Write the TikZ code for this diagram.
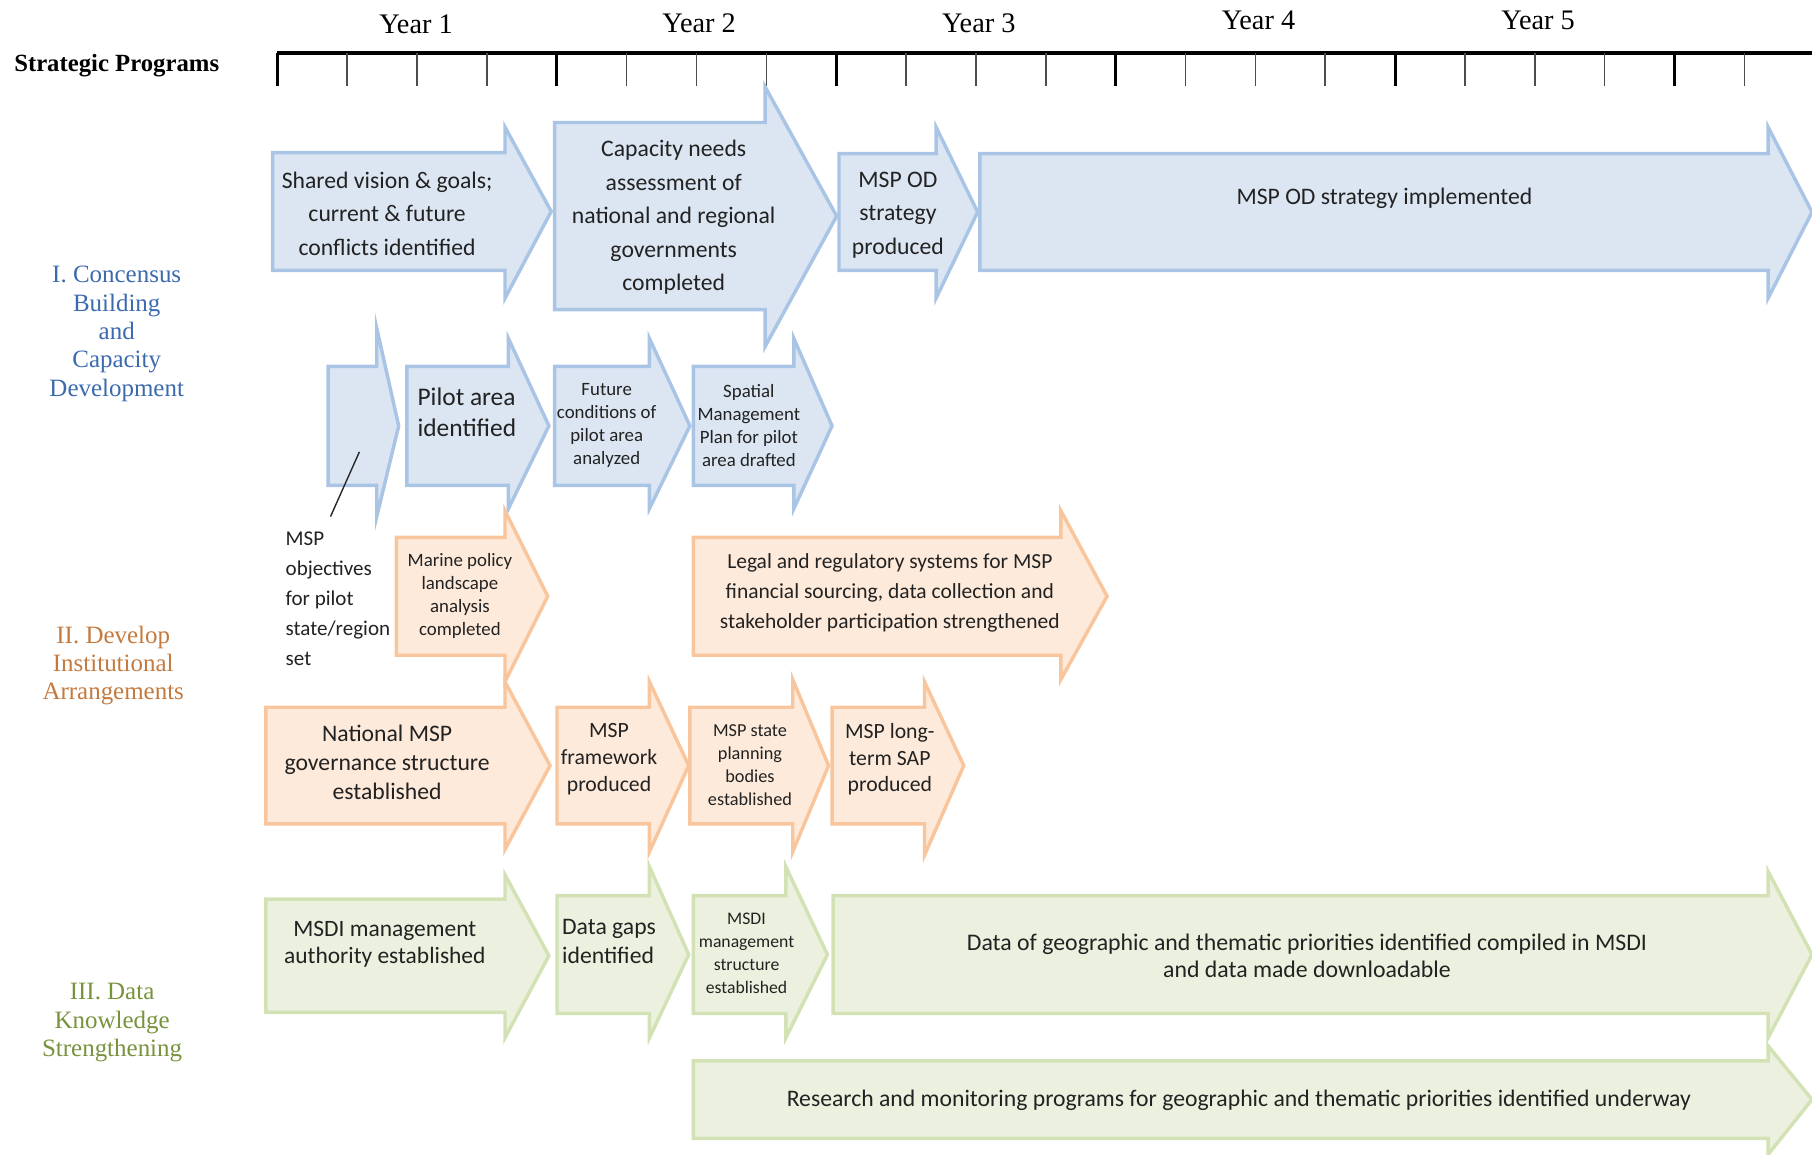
\documentclass[tikz,border=0pt]{standalone}
\usepackage{fontspec}
\setmainfont{Liberation Serif}
\newfontfamily\calib{Carlito}
\definecolor{bfill}{HTML}{DCE6F2}
\definecolor{bline}{HTML}{A9C4E4}
\definecolor{ofill}{HTML}{FDEADA}
\definecolor{oline}{HTML}{F9C59C}
\definecolor{gfill}{HTML}{EBF1DE}
\definecolor{gline}{HTML}{D2E2B5}
\definecolor{bl}{HTML}{3B6AAE}
\definecolor{ol}{HTML}{C47A3E}
\definecolor{gl}{HTML}{77933C}
\definecolor{txt}{HTML}{222222}
\newcommand{\shaft}[8]{%
  \path[#1] (#2,#4) -- (#3,#4) -- (#3,#6) -- (#8,{(#4+#5)/2}) -- (#3,#7) -- (#3,#5) -- (#2,#5) -- cycle;}
\newcommand{\fs}[2]{\fontsize{#1}{#2}\selectfont}
\tikzset{
  blu/.style={fill=bfill,draw=bline,line width=3pt,line join=miter},
  ora/.style={fill=ofill,draw=oline,line width=3pt,line join=miter},
  gre/.style={fill=gfill,draw=gline,line width=3pt,line join=miter},
  lbl/.style={text=txt,align=center,inner sep=0pt},
  prog/.style={align=center,inner sep=0pt},
  yr/.style={inner sep=0pt,font=\fs{24.5}{28}},
}
\begin{document}
\begin{tikzpicture}[x=1pt,y=-1pt]
\useasboundingbox (0,0) rectangle (1568,999);
% timeline
\node[inner sep=0pt,font=\bfseries\fs{21.4}{24}] (sp) at (101,57) {Strategic Programs};
\draw[line width=3pt] (240,46) -- (1570,46);
\foreach \i in {0,...,21}{
  \draw[line width=1.3pt,black!70] ({240+60.45*\i},46) -- ({240+60.45*\i},74);
}
\foreach \i in {0,...,5}{
  \draw[line width=2.6pt] ({240+241.8*\i},46) -- ({240+241.8*\i},74);
}
\node[yr] (y1) at (360,21) {Year 1};
\node[yr] (y2) at (605,20) {Year 2};
\node[yr] (y3) at (847,20) {Year 3};
\node[yr] (y4) at (1089,18) {Year 4};
\node[yr] (y5) at (1331,18) {Year 5};
% program labels
\node[prog,text=bl,font=\fs{21.6}{24.5}] (p1) at (101,289) {I. Concensus\\Building\\and\\Capacity\\Development};
\node[prog,text=ol,font=\fs{21.6}{24.5}] (p2) at (98,576) {II. Develop\\Institutional\\Arrangements};
\node[prog,text=gl,font=\fs{21.6}{24.5}] (p3) at (97,885) {III. Data\\Knowledge\\Strengthening};
% row 1
\shaft{blu}{236}{437}{132}{234}{110}{258}{477}
\node[lbl,font=\calib\fs{20.5}{29}] (a1) at (335,185) {Shared vision \& goals;\\current \& future\\conflicts identified};
\shaft{blu}{480}{662}{106}{268}{75}{300}{724}
\node[lbl,font=\calib\fs{20.5}{29}] (a2) at (583,188) {Capacity needs\\assessment of\\national and regional\\governments\\completed};
\shaft{blu}{726}{810}{133}{234}{110}{258}{846}
\node[lbl,font=\calib\fs{20.5}{29}] (a3) at (777,186) {MSP OD\\strategy\\produced};
\shaft{blu}{848}{1530}{133}{234}{110}{258}{1568}
\node[lbl,font=\calib\fs{20.5}{29}] (a4) at (1198,172) {MSP OD strategy implemented};
% row 2
\shaft{blu}{284}{326}{317}{420}{284}{447}{345}
\coordinate (a5) at (311,391);
\shaft{blu}{352}{440}{317}{420}{293}{440}{475}
\node[lbl,align=left,font=\calib\fs{22}{27}] (a6) at (404,357) {Pilot area\\identified};
\shaft{blu}{480}{562}{317}{420}{293}{440}{597}
\node[lbl,font=\calib\fs{16.3}{20}] (a7) at (525,368) {Future\\conditions of\\pilot area\\analyzed};
\shaft{blu}{600}{687}{317}{420}{293}{440}{720}
\node[lbl,font=\calib\fs{16.3}{20}] (a8) at (648,368) {Spatial\\Management\\Plan for pilot\\area drafted};
% objectives note
\node[lbl,align=left,anchor=west,font=\calib\fs{18.2}{26}] (obj) at (247,518) {MSP\\objectives\\for pilot\\state/region\\set};
\coordinate (objtop) at (286,447);
\draw[line width=1.2pt,black!85] (objtop) -- (a5);
% row 3
\shaft{ora}{343}{437}{465}{567}{442}{590}{474}
\node[lbl,font=\calib\fs{16.3}{20}] (a9) at (398,516) {Marine policy\\landscape\\analysis\\completed};
\shaft{ora}{600}{918}{465}{567}{442}{588}{958}
\node[lbl,font=\calib\fs{18.6}{26}] (a10) at (770,513) {Legal and regulatory systems for MSP\\financial sourcing, data collection and\\stakeholder participation strengthened};
% row 4
\shaft{ora}{230}{437}{612}{713}{590}{735}{476}
\node[lbl,font=\calib\fs{20.5}{25}] (a11) at (335,660) {National MSP\\governance structure\\established};
\shaft{ora}{482}{562}{612}{713}{590}{737}{596}
\node[lbl,font=\calib\fs{18.8}{23}] (a12) at (527,657) {MSP\\framework\\produced};
\shaft{ora}{597}{686}{612}{713}{588}{737}{717}
\node[lbl,font=\calib\fs{15.8}{20}] (a13) at (649,662) {MSP state\\planning\\bodies\\established};
\shaft{ora}{720}{800}{612}{713}{590}{740}{834}
\node[lbl,font=\calib\fs{18.8}{23}] (a14) at (770,657) {MSP long-\\term SAP\\produced};
% row 5
\shaft{gre}{230}{437}{778}{876}{757}{898}{475}
\node[lbl,font=\calib\fs{20.3}{23}] (a15) at (333,817) {MSDI management\\authority established};
\shaft{gre}{482}{562}{775}{877}{750}{898}{596}
\node[lbl,align=left,font=\calib\fs{20.5}{25}] (a16) at (527,815) {Data gaps\\identified};
\shaft{gre}{600}{680}{775}{877}{750}{898}{716}
\node[lbl,font=\calib\fs{15.3}{20}] (a17) at (646,825) {MSDI\\management\\structure\\established};
\shaft{gre}{721}{1530}{775}{877}{754}{898}{1568}
\node[lbl,font=\calib\fs{20.6}{24}] (a18) at (1131,827) {Data of geographic and thematic priorities identified compiled in MSDI\\and data made downloadable};
% row 6
\shaft{gre}{600}{1530}{918}{985}{905}{999}{1568}
\node[lbl,font=\calib\fs{20.5}{24}] (a19) at (1072,952) {Research and monitoring programs for geographic and thematic priorities identified underway};
\end{tikzpicture}
\end{document}
